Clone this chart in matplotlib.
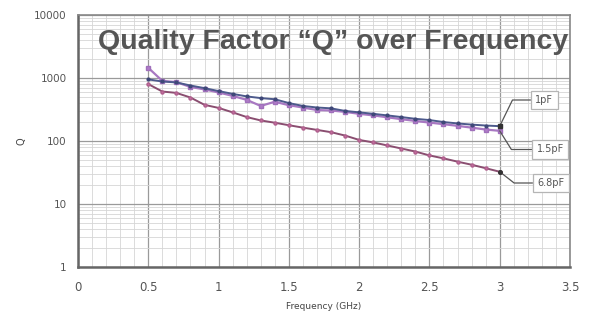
import matplotlib
matplotlib.use("Agg")
import matplotlib.pyplot as plt
import numpy as np
from matplotlib.ticker import NullFormatter, LogLocator

freq = [0.5, 0.6, 0.7, 0.8, 0.9, 1.0, 1.1, 1.2, 1.3, 1.4, 1.5, 1.6, 1.7,
        1.8, 1.9, 2.0, 2.1, 2.2, 2.3, 2.4, 2.5, 2.6, 2.7, 2.8, 2.9, 3.0]
q_1pF = [950, 880, 850, 760, 690, 620, 560, 510, 480, 460, 400, 360, 340,
         330, 300, 285, 270, 255, 240, 225, 215, 200, 190, 182, 176, 172]
q_1p5pF = [1450, 900, 860, 720, 660, 590, 520, 450, 360, 420, 370, 340, 310,
           305, 290, 270, 255, 238, 222, 208, 196, 185, 174, 163, 152, 145]
q_6p8pF = [800, 610, 580, 490, 375, 335, 285, 240, 212, 195, 178, 163, 150,
           138, 122, 104, 95, 85, 76, 68, 59, 53, 47, 42, 37, 32.5]

series_labels = ["1pF", "1.5pF", "6.8pF"]
title_text = "Quality Factor \u201cQ\u201d over Frequency"
x_ticks = [0, 0.5, 1, 1.5, 2, 2.5, 3, 3.5]
x_tick_labels = ["0", "0.5", "1", "1.5", "2", "2.5", "3", "3.5"]
y_ticks = [1, 10, 100, 1000, 10000]
y_tick_labels = ["1", "10", "100", "1000", "10000"]

W, H = 592, 316
fig = plt.figure(figsize=(W / 100, H / 100), dpi=100)
ax = fig.add_axes([78 / W, 1 - 267 / H, (570 - 78) / W, (267 - 15) / H])
ax.set_yscale("log")
ax.set_xlim(0, 3.5)
ax.set_ylim(1, 10000)

ax.set_xticks(x_ticks)
ax.set_xticklabels(x_tick_labels)
ax.set_xticks(np.arange(0, 3.51, 0.1), minor=True)
ax.set_yticks(y_ticks)
ax.set_yticklabels(y_tick_labels)
ax.yaxis.set_minor_locator(LogLocator(base=10, subs=np.arange(2, 10)))
ax.yaxis.set_minor_formatter(NullFormatter())

ax.grid(which="major", color="#9a9a9a", linewidth=0.9)
ax.grid(which="minor", color="#d6d6d6", linewidth=0.6)
ax.set_axisbelow(True)
ax.tick_params(which="both", length=0)
ax.tick_params(axis="x", labelsize=8.5, colors="#555555", pad=10)
ax.tick_params(axis="y", labelsize=7.5, colors="#555555", pad=8)

for s in ["left", "bottom"]:
    ax.spines[s].set_color("#666666")
    ax.spines[s].set_linewidth(1.8)
for s in ["top", "right"]:
    ax.spines[s].set_color("#888888")
    ax.spines[s].set_linewidth(1.2)

ax.plot(freq, q_1p5pF, color="#a878c2", lw=1.6, marker="s", ms=3.2,
        mfc="#b07cc8", mec="#a070bb", zorder=3)
ax.plot(freq, q_1pF, color="#4d5a8c", lw=1.4, marker="o", ms=2.0,
        mfc="#3f4878", mec="#3f4878", zorder=4)
ax.plot(freq, q_6p8pF, color="#8a4e70", lw=1.4, marker="o", ms=2.2,
        mfc="#c46d9e", mec="#b0608e", zorder=4)
ax.plot([freq[-1]], [q_6p8pF[-1]], marker="o", ms=2.6, color="#333333", zorder=5)
ax.plot([freq[-1]], [q_1pF[-1]], marker="s", ms=2.4, color="#333333", zorder=5)

def px2data(px, py):
    return (px - 78) / 140.0, 10 ** ((267 - py) / 63.0)

box = dict(boxstyle="square,pad=0.45", fc="white", ec="#b5b5b5", lw=0.9)
ann = [
    (series_labels[0], q_1pF[-1], (542.5, 100), 64),
    (series_labels[1], q_1p5pF[-1], (548.5, 149.5), -58),
    (series_labels[2], q_6p8pF[-1], (549, 183), -38),
]
for lab, yv, (tx, ty), angB in ann:
    ax.annotate(lab, xy=(freq[-1], yv), xytext=px2data(tx, ty),
                ha="center", va="center", fontsize=7, color="#555555",
                family="DejaVu Sans", bbox=box, annotation_clip=False,
                arrowprops=dict(arrowstyle="-", color="#555555", lw=0.9,
                                shrinkA=0, shrinkB=0,
                                connectionstyle=f"angle,angleA=180,angleB={angB},rad=0"))

fig.text(333 / W, 1 - 42 / H, title_text, ha="center", va="center",
         fontsize=20.5, fontweight="bold", color="#555555", family="Liberation Sans")
ax.set_xlabel("Frequency (GHz)", fontsize=6.5, color="#444444", labelpad=6)
fig.text(22 / W, 1 - 141 / H, "Q", rotation=90, ha="center", va="center",
         fontsize=7, color="#444444")

fig.savefig("out.png", dpi=100)
